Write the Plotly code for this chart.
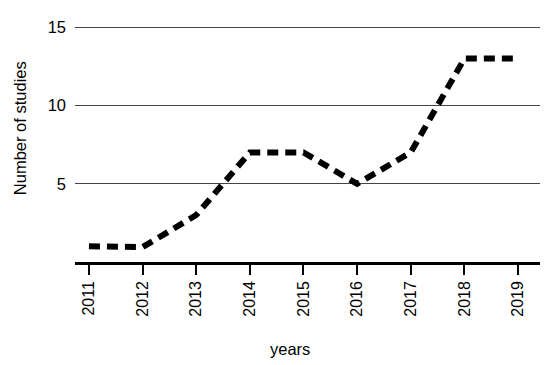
import plotly.graph_objects as go

years = [2011, 2012, 2013, 2014, 2015, 2016, 2017, 2018, 2019]
studies = [1, 0.95, 3, 7, 7, 5, 7, 13, 13]
y_ticks = [5, 10, 15]
y_tick_labels = ["5", "10", "15"]
x_title = "years"
y_title = "Number of studies"

FONT = "Liberation Sans, Arial, sans-serif"

Y_MAX = 15.4
L, R, B = 75, 10, 103
W, H = 550, 365
ph = 262 - 27  # pixels for 15 units
ph_full = ph * Y_MAX / 15
T = H - B - ph_full
pw = W - L - R


def px_x(x):
    return (x - L) / pw


def px_y(y):
    return (H - B - y) / ph_full


fig = go.Figure()
fig.add_trace(go.Scatter(
    x=years, y=studies, mode="lines",
    line=dict(color="black", width=6, dash="11px,7px", shape="linear"),
    showlegend=False, hoverinfo="skip",
))

fig.update_layout(
    width=W, height=H,
    margin=dict(l=L, r=R, t=T, b=B, autoexpand=False),
    plot_bgcolor="white", paper_bgcolor="white",
    font=dict(family=FONT, color="black", size=15),
    xaxis=dict(
        range=[2010.74, 2019.41], tickmode="array", tickvals=years,
        ticktext=[str(y) for y in years], tickangle=-90,
        showgrid=False, zeroline=False, automargin=False,
        showline=True, linecolor="black", linewidth=2.5,
        ticks="outside", ticklen=10, tickwidth=2, tickcolor="black",
        tickfont=dict(size=16),
    ),
    xaxis2=dict(
        range=[2010.74, 2019.41], overlaying="x", anchor="y", side="bottom",
        tickmode="array", tickvals=years, showticklabels=False, automargin=False,
        showgrid=False, zeroline=False, showline=False,
        ticks="inside", ticklen=5, tickwidth=2, tickcolor="black",
    ),
    yaxis=dict(
        range=[0, Y_MAX], tickmode="array", tickvals=y_ticks, ticktext=y_tick_labels,
        showgrid=True, gridcolor="#444", gridwidth=1, automargin=False,
        zeroline=False, showline=False, ticks="",
        tickfont=dict(size=16.5), ticklabelstandoff=8,
    ),
    annotations=[
        dict(text=x_title, x=px_x(290), y=px_y(349), xref="paper", yref="paper",
             xanchor="center", yanchor="middle",
             showarrow=False, font=dict(size=16.5)),
        dict(text=y_title, x=px_x(20), y=px_y(128), xref="paper", yref="paper",
             xanchor="center", yanchor="middle",
             showarrow=False, textangle=-90, font=dict(size=16.5)),
    ],
)

fig.write_html("out.html", config={"displayModeBar": False},
               post_script="document.body.style.margin='0';")
